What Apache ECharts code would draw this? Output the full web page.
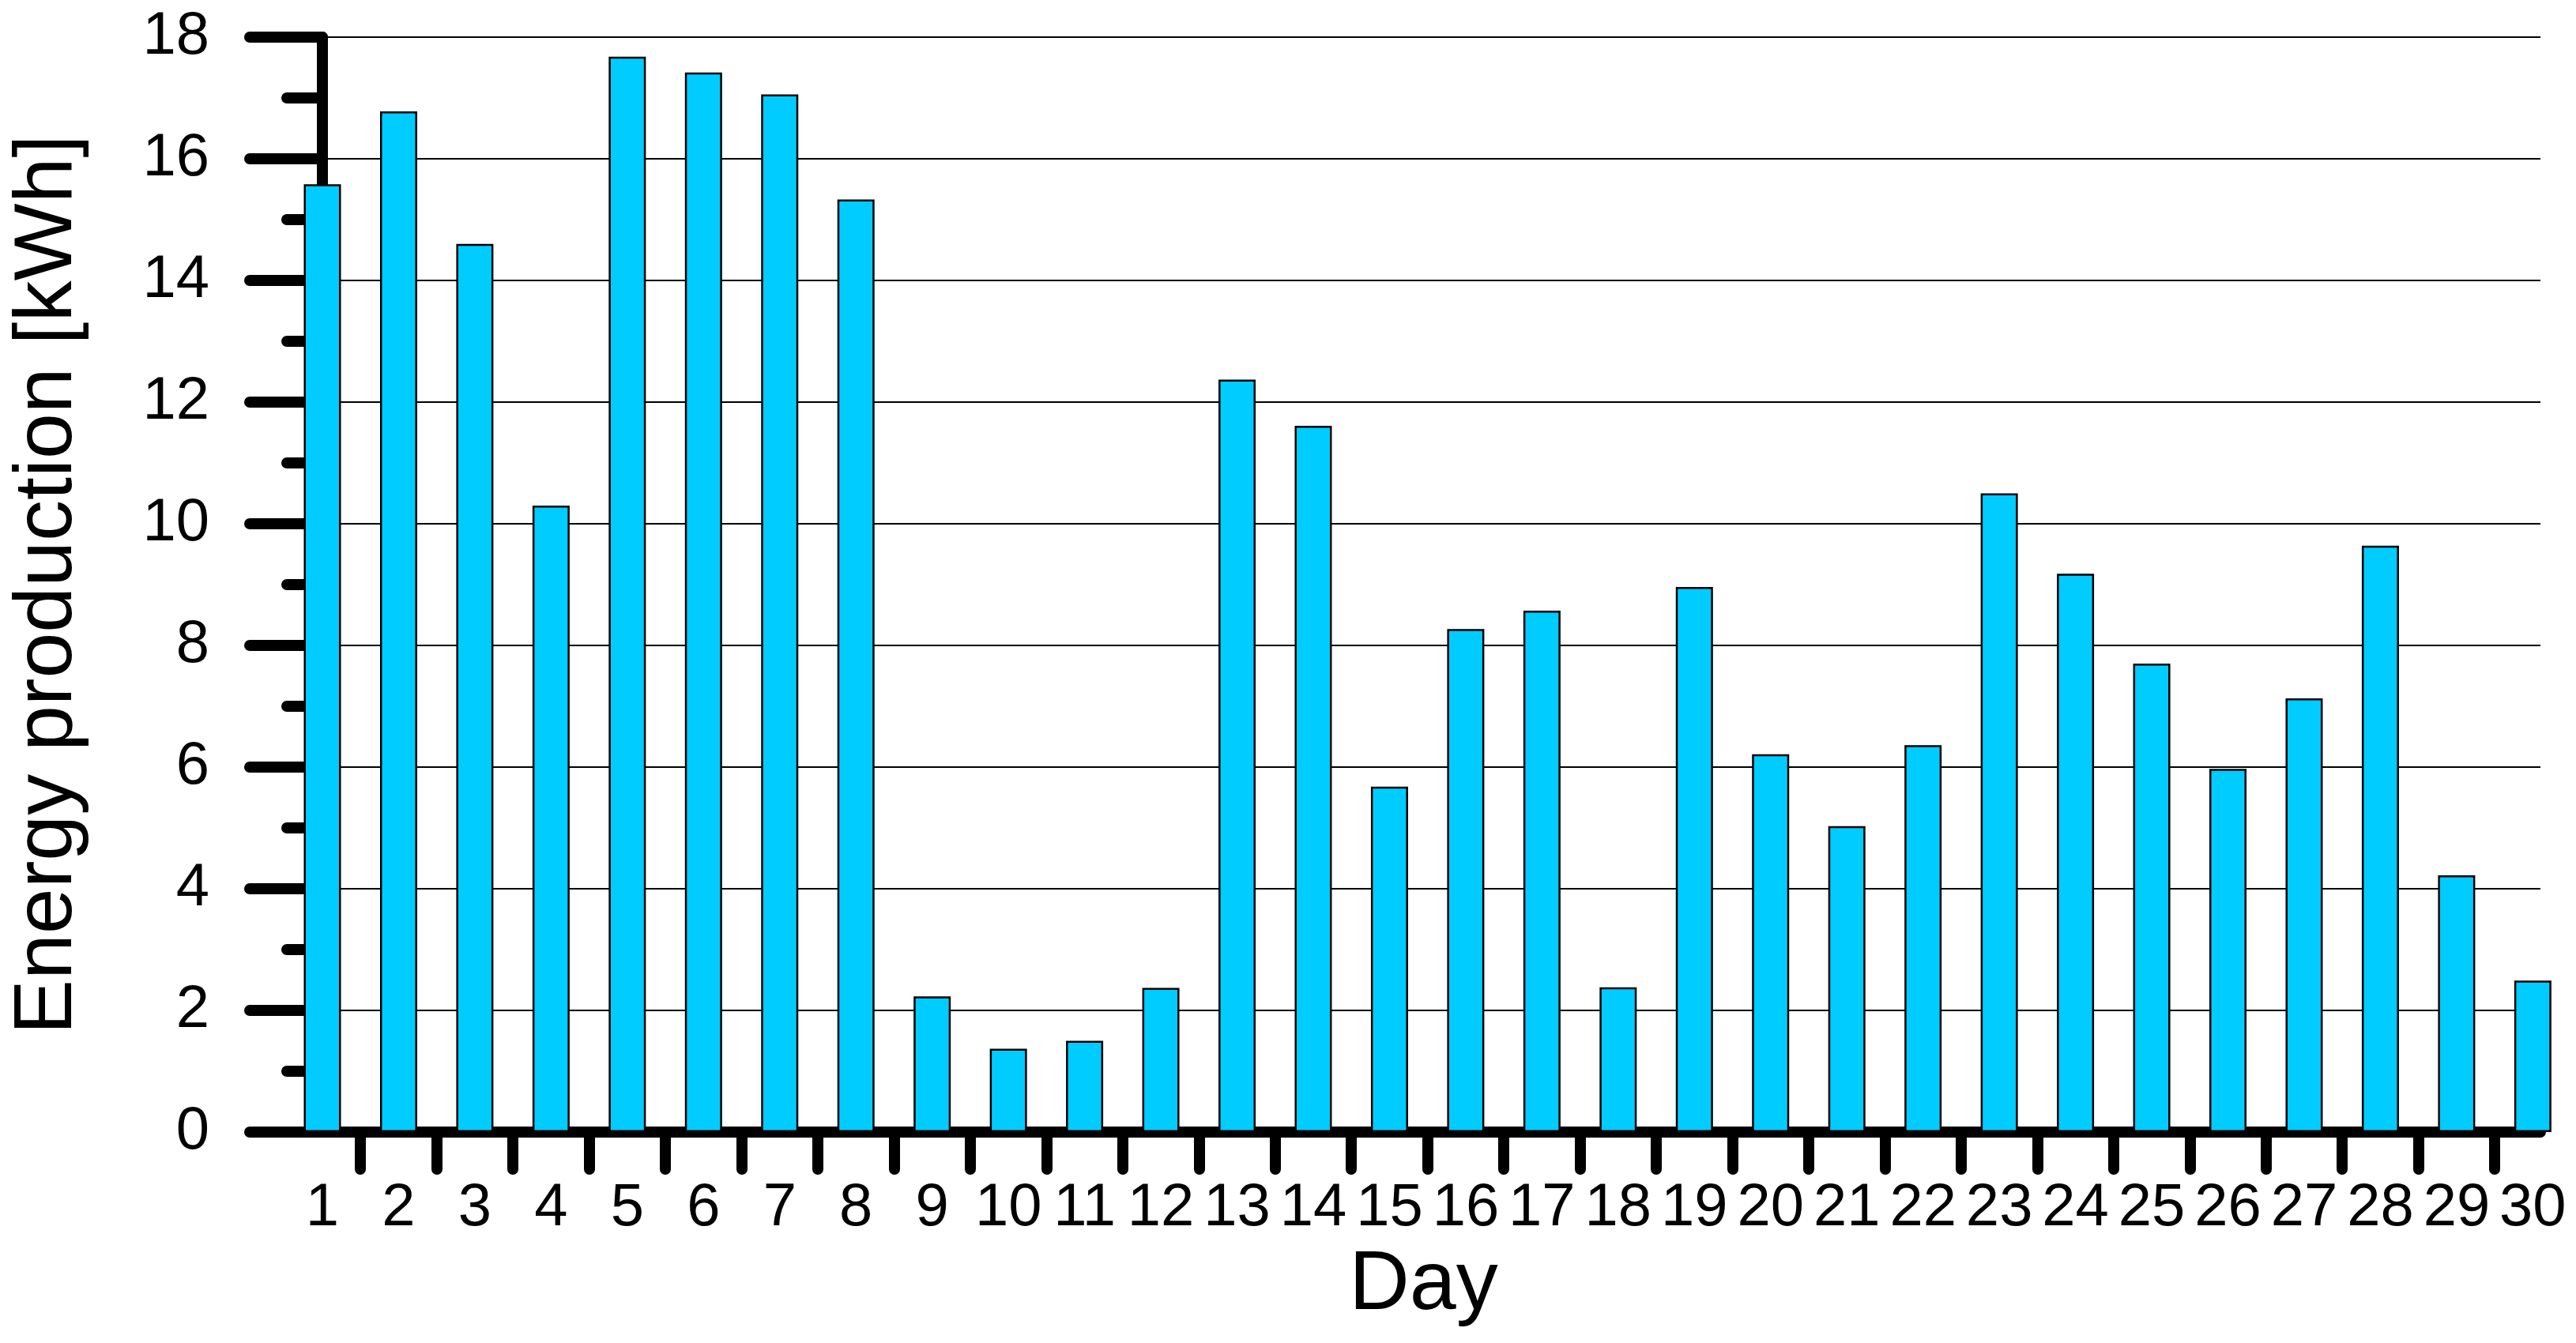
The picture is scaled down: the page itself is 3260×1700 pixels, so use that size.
<!DOCTYPE html>
<html>
<head>
<meta charset="utf-8">
<script src="https://cdn.jsdelivr.net/npm/echarts@6/dist/echarts.min.js"></script>
<style>
  html, body { margin: 0; padding: 0; background: #fff; }
  #chart { width: 3260px; height: 1700px; }
</style>
</head>
<body>
<div id="chart"></div>
<script>
// days of the month and daily energy production (kWh)
const days = [1, 2, 3, 4, 5, 6, 7, 8, 9, 10, 11, 12, 13, 14, 15,
  16, 17, 18, 19, 20, 21, 22, 23, 24, 25, 26, 27, 28, 29, 30]
const energy = [15.58, 16.78, 14.60, 10.30, 17.68, 17.42, 17.06, 15.33, 2.23, 1.37,
  1.50, 2.37, 12.37, 11.61, 5.68, 8.27, 8.57, 2.38, 8.96, 6.21,
  5.03, 6.36, 10.50, 9.18, 7.70, 5.97, 7.13, 9.64, 4.22, 2.49]
const yTicks = [0, 2, 4, 6, 8, 10, 12, 14, 16, 18]

const font = "'Liberation Sans', Arial, sans-serif"
const black = '#000'

const chartIns = echarts.init(document.getElementById('chart'))

const option = {
  backgroundColor: '#fff',
  animation: false,
  grid: {
    left: 408,
    right: 45,
    top: 47,
    bottom: 267
  },
  xAxis: {
    type: 'value',
    min: days[0],
    max: days[days.length - 1] + 0.1,
    interval: 1,
    name: 'Day',
    nameLocation: 'middle',
    nameGap: 142,
    nameTextStyle: { fontFamily: font, fontSize: 106, color: black, padding: [0, 20, 0, 0] },
    axisLine: { onZero: false, lineStyle: { color: black, width: 14 } },
    axisTick: { show: false },
    minorTick: {
      show: true,
      splitNumber: 2,
      length: 47,
      lineStyle: { color: black, width: 14, cap: 'round' }
    },
    axisLabel: {
      margin: 59,
      fontFamily: font,
      fontSize: 76,
      color: black,
      formatter: v => (Number.isInteger(v) && days.indexOf(v) >= 0 ? String(v) : '')
    },
    splitLine: { show: false }
  },
  yAxis: {
    type: 'value',
    min: yTicks[0],
    max: yTicks[yTicks.length - 1],
    interval: yTicks[1] - yTicks[0],
    name: 'Energy production [kWh]',
    nameLocation: 'middle',
    nameGap: 295,
    nameTextStyle: { fontFamily: font, fontSize: 104, color: black },
    axisLine: { show: true, onZero: false, lineStyle: { color: black, width: 14 } },
    axisTick: {
      show: true,
      length: 92,
      lineStyle: { color: black, width: 14, cap: 'round' }
    },
    minorTick: {
      show: true,
      splitNumber: 2,
      length: 45,
      lineStyle: { color: black, width: 14, cap: 'round' }
    },
    axisLabel: {
      margin: 143,
      fontFamily: font,
      fontSize: 76,
      color: black
    },
    splitLine: { show: true, lineStyle: { color: black, width: 2 } }
  },
  series: [
    {
      type: 'bar',
      data: days.map((d, i) => [d, energy[i]]),
      barWidth: 47,
      clip: false,
      itemStyle: {
        color: '#00ccff',
        borderColor: black,
        borderWidth: 2.5
      }
    }
  ]
}

chartIns.setOption(option)
</script>
</body>
</html>
